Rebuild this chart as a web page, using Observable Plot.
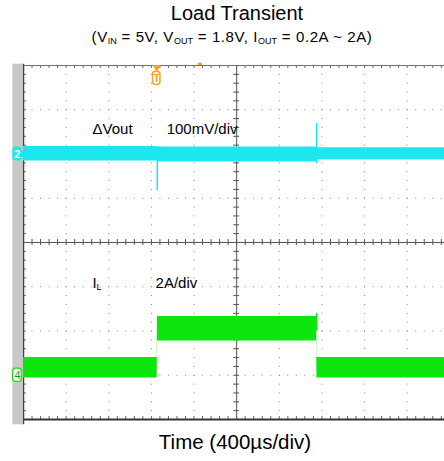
<!DOCTYPE html>
<html><head><meta charset="utf-8">
<script src="https://cdn.jsdelivr.net/npm/d3@7"></script>
<script src="https://cdn.jsdelivr.net/npm/@observablehq/plot@0.6"></script>
<style>
body{margin:0;background:#fff;overflow:hidden;font-family:"Liberation Sans",Arial,sans-serif;}
#wrap{position:relative;width:444px;height:461px;}
.ttl{position:absolute;left:28px;width:416px;text-align:center;color:#000;white-space:nowrap}
#t1{top:2px;font-size:20px;line-height:22px;left:30px;width:414px}
#t2{top:28px;font-size:15px;line-height:18px;letter-spacing:0.6px;left:20px;width:424px}
#t2 sub{font-size:9px;vertical-align:baseline;position:relative;top:2px;letter-spacing:0}
#chart{position:absolute;left:0;top:62px}
#cap{top:431px;font-size:20.5px;line-height:22px;left:26px;width:418px}
</style></head><body>
<div id="wrap">
<div class="ttl" id="t1">Load Transient</div>
<div class="ttl" id="t2">(V<sub>IN</sub> = 5V, V<sub>OUT</sub> = 1.8V, I<sub>OUT</sub> = 0.2A ~ 2A)</div>
<div id="chart"></div>
<div class="ttl" id="cap">Time (400µs/div)</div>
</div>
<script>
// ---- time base (µs), 400 µs/div, right edge of screen clipped ----
const timeDomain = [0, 3950];
const usPerDiv = 400;
const nDivY = 8;

// ---- channel settings ----
const voutScale = 100;  // mV/div
const voutOffset = 6;   // div from bottom (channel 2 marker)
const ilScale = 2;      // A/div
const ilOffset = 1;     // div from bottom (channel 4 marker)

// ---- ΔVout trace band (mV) ----
const voutTime = [0, 1254, 1256, 2750, 2752, 3950];
const voutLo   = [-16, -16, -18, -18, -13, -13];
const voutHi   = [17, 17, 16, 16, 14, 14];
// ΔVout transient spikes (mV)
const voutSpikeTime = [1255, 2751];
const voutSpikeMin  = [-83, -22];
const voutSpikeMax  = [4, 69];

// ---- IL trace band (A) ----
const ilTime = [0, 1254, 1257, 2750, 2753, 3950];
const ilLo   = [-0.12, -0.12, 1.55, 1.55, -0.12, -0.12];
const ilHi   = [0.8, 0.8, 2.65, 2.65, 0.8, 0.8];
const ilSpikeTime = [2751];
const ilSpikeMax  = [2.8];

// ---- trigger ----
const triggerTime = [1250];

// ---- labels ----
const labels = [
  {t: 648, div: 6.57, text: "ΔVout"},
  {t: 1343, div: 6.57, text: "100mV/div"},
  {t: 1239, div: 3.09, text: "2A/div"}
];

const cyan = "#1de6ee", green = "#0ce60c", orange = "#f5a020";
const yv = v => voutOffset + v / voutScale;
const yi = a => ilOffset + a / ilScale;

const gridX = d3.range(usPerDiv, timeDomain[1], usPerDiv).filter(d => d !== 2000);
const gridY = d3.range(1, nDivY).filter(d => d !== 4);
const minorX = d3.range(0, timeDomain[1] + 1, usPerDiv / 5);
const minorY = d3.range(0, nDivY + 0.001, 0.2);
const tx = 28, ty = 0.068;

const chart = Plot.plot({
  width: 444, height: 366,
  marginLeft: 23, marginRight: 0, marginTop: 3, marginBottom: 9,
  x: {domain: timeDomain, axis: null},
  y: {domain: [0, nDivY], axis: null},
  style: {fontFamily: "Liberation Sans, Arial, sans-serif", background: "transparent"},
  marks: [
    // gray side strip
    Plot.rect([0], {x1: () => -100, x2: () => -6, y1: () => -0.12, y2: () => 8.03, fill: "#c8c8c8"}),
    // dotted grid
    Plot.ruleX(gridX, {x: d => d, stroke: "#888", strokeDasharray: "1 7.85"}),
    Plot.ruleY(gridY, {y: d => d, stroke: "#888", strokeDasharray: "1 7.526"}),
    // crosshair
    Plot.ruleX([2000], {x: d => d, stroke: "#555"}),
    Plot.ruleY([4], {y: d => d, stroke: "#555"}),
    Plot.ruleY(minorY, {y: d => d, x1: () => 2000 - tx, x2: () => 2000 + tx, stroke: "#555"}),
    Plot.ruleX(minorX, {x: d => d, y1: () => 4 - ty, y2: () => 4 + ty, stroke: "#555"}),
    // border ticks
    Plot.ruleX(minorX, {x: d => d, y1: () => 8, y2: () => 8 - ty, stroke: "#666"}),
    Plot.ruleX(minorX, {x: d => d, y1: () => 0, y2: () => ty, stroke: "#666"}),
    Plot.ruleY(minorY, {y: d => d, x1: () => 0, x2: () => tx, stroke: "#666"}),
    // borders
    Plot.ruleY([8], {y: d => d, stroke: "#707070"}),
    Plot.ruleY([0], {y: d => d, stroke: "#333", strokeWidth: 2}),
    Plot.ruleX([0], {x: d => d, stroke: "#444", strokeWidth: 1.5, y1: () => -0.12, y2: () => 8.03}),
    // IL trace
    Plot.areaY(d3.range(ilTime.length), {x: i => ilTime[i], y1: i => yi(ilLo[i]), y2: i => yi(ilHi[i]), fill: green}),
    Plot.ruleX(ilSpikeTime, {x: d => d, y1: () => yi(2.0), y2: (d, i) => yi(ilSpikeMax[i]), stroke: green, strokeWidth: 1.5}),
    // ΔVout trace
    Plot.areaY(d3.range(voutTime.length), {x: i => voutTime[i], y1: i => yv(voutLo[i]), y2: i => yv(voutHi[i]), fill: cyan}),
    Plot.ruleX(voutSpikeTime, {x: d => d, y1: (d, i) => yv(voutSpikeMin[i]), y2: (d, i) => yv(voutSpikeMax[i]), stroke: cyan, strokeWidth: 1.5}),
    // labels
    Plot.text(labels, {x: "t", y: "div", text: "text", textAnchor: "start", fontSize: 15, fill: "#000"}),
    Plot.text([0], {x: () => 648, y: () => 3.09, text: () => "I", textAnchor: "start", fontSize: 15, fill: "#000"}),
    Plot.text([0], {x: () => 648, y: () => 3.09, text: () => "L", textAnchor: "start", fontSize: 9, dx: 4, dy: 4, fill: "#000"}),
    // channel markers
    Plot.rect([0], {x1: () => -99, x2: () => -14, y1: () => voutOffset - 0.16, y2: () => voutOffset + 0.16, fill: cyan, rx: 3}),
    Plot.dot([0], {x: () => -10, y: () => voutOffset, symbol: "triangle", rotate: 90, r: 3.2, fill: cyan}),
    Plot.text([0], {x: () => -58, y: () => voutOffset, text: () => "2", fill: "#fff", fontSize: 11, fontWeight: "bold"}),
    Plot.rect([0], {x1: () => -97, x2: () => -16, y1: () => ilOffset - 0.15, y2: () => ilOffset + 0.15, fill: "#fff", stroke: green, strokeWidth: 1.2, rx: 3}),
    Plot.text([0], {x: () => -56, y: () => ilOffset, text: () => "4", fill: "#1a9a1a", fontSize: 11}),
    // trigger marker
    Plot.dot(triggerTime, {x: d => d, y: () => 7.96, symbol: "triangle", rotate: 180, r: 3, fill: orange}),
    Plot.rect(triggerTime, {x1: d => d - 35, x2: d => d + 35, y1: () => 7.56, y2: () => 7.86, fill: "#fff", stroke: orange, strokeWidth: 1.5, rx: 3}),
    Plot.text(triggerTime, {x: d => d, y: () => 7.71, text: () => "T", fill: orange, fontSize: 11, fontWeight: "bold"}),
    Plot.rect([0], {x1: () => 1640, x2: () => 1680, y1: () => 8, y2: () => 8.05, fill: orange})
  ]
});
document.getElementById("chart").appendChild(chart);
</script>
</body></html>
